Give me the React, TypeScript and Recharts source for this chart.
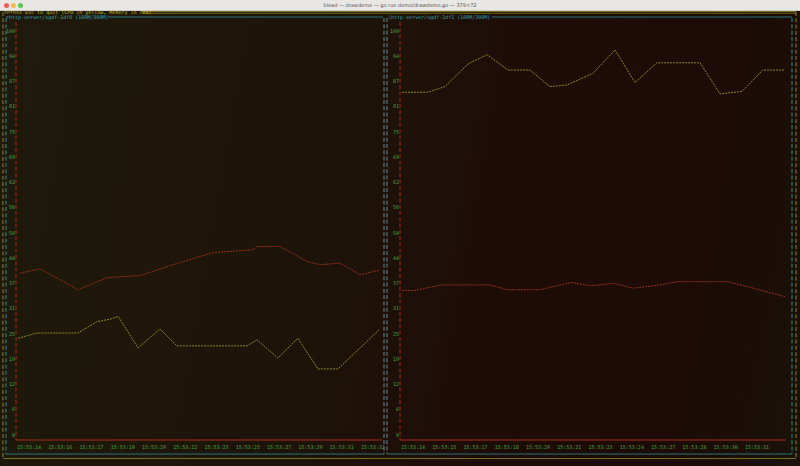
import { Line, LineChart, XAxis, YAxis } from "recharts";

// tick labels
const leftTimes = ["15:53:14", "15:53:16", "15:53:17", "15:53:19", "15:53:20", "15:53:22", "15:53:23", "15:53:25", "15:53:27", "15:53:29", "15:53:31", "15:53:32"];
const rightTimes = ["15:53:14", "15:53:15", "15:53:17", "15:53:18", "15:53:20", "15:53:21", "15:53:23", "15:53:24", "15:53:27", "15:53:28", "15:53:30", "15:53:31"];
const yTicks = [0, 6.25, 12.5, 18.75, 25, 31.25, 37.5, 43.75, 50, 56.25, 62.5, 68.75, 75, 81.25, 87.5, 93.75, 100];
const yLabels = ["0", "6", "12", "19", "25", "31", "37", "44", "50", "56", "62", "69", "75", "81", "87", "94", "100"];

// t = position in x-tick units (0 = first label)
const leftCpu = [
  { t: -0.35, v: 23.9 }, { t: 0.26, v: 25.2 }, { t: 1.57, v: 25.2 }, { t: 2.17, v: 28.0 },
  { t: 2.59, v: 28.6 }, { t: 2.85, v: 29.3 }, { t: 3.49, v: 21.5 }, { t: 4.19, v: 26.2 },
  { t: 4.73, v: 22.0 }, { t: 6.97, v: 22.0 }, { t: 7.29, v: 23.5 }, { t: 7.96, v: 19.0 },
  { t: 8.6, v: 23.9 }, { t: 9.24, v: 16.3 }, { t: 9.88, v: 16.3 }, { t: 10.59, v: 21.5 },
  { t: 11.22, v: 26.2 },
];
const leftMem = [
  { t: -0.29, v: 40.0 }, { t: 0.35, v: 41.1 }, { t: 1.57, v: 35.9 }, { t: 2.49, v: 38.9 },
  { t: 3.55, v: 39.4 }, { t: 4.61, v: 42.1 }, { t: 5.88, v: 45.1 }, { t: 7.16, v: 45.8 },
  { t: 7.29, v: 46.6 }, { t: 8.03, v: 46.6 }, { t: 8.89, v: 42.9 }, { t: 9.31, v: 42.1 },
  { t: 9.95, v: 42.5 }, { t: 10.59, v: 39.6 }, { t: 11.22, v: 40.8 },
];
const rightCpu = [
  { t: -0.35, v: 84.8 }, { t: 0.45, v: 84.8 }, { t: 1.02, v: 86.2 }, { t: 1.76, v: 91.8 },
  { t: 2.37, v: 94.1 }, { t: 3.04, v: 90.3 }, { t: 3.74, v: 90.3 }, { t: 4.38, v: 86.2 },
  { t: 4.92, v: 86.6 }, { t: 5.76, v: 89.5 }, { t: 6.46, v: 95.3 }, { t: 7.1, v: 87.2 },
  { t: 7.8, v: 92.1 }, { t: 9.18, v: 92.1 }, { t: 9.82, v: 84.4 }, { t: 10.52, v: 85.0 },
  { t: 11.19, v: 90.3 }, { t: 11.9, v: 90.3 },
];
const rightMem = [
  { t: -0.35, v: 35.7 }, { t: 0.03, v: 35.7 }, { t: 0.93, v: 37.1 }, { t: 2.46, v: 37.1 },
  { t: 3.01, v: 35.9 }, { t: 4.06, v: 35.9 }, { t: 4.7, v: 37.1 }, { t: 5.08, v: 37.7 },
  { t: 5.66, v: 36.9 }, { t: 5.98, v: 37.1 }, { t: 6.4, v: 37.5 }, { t: 7.04, v: 36.3 },
  { t: 7.9, v: 37.1 }, { t: 8.44, v: 37.9 }, { t: 10.04, v: 37.9 }, { t: 10.68, v: 36.7 },
  { t: 11.9, v: 34.2 },
];

const MONO = "'DejaVu Sans Mono', 'Liberation Mono', monospace";
const YELLOW = "#8c8626";
const RED = "#962e1b";
const GREEN = "#46a83f";
const CYAN = "#2b8c9c";

type Pt = { t: number; v: number };

function Panel(props: { left: number; width: number; cpu: Pt[]; mem: Pt[]; labels: string[]; xMax: number }) {
  const { left, width, cpu, mem, labels, xMax } = props;
  return (
    <div style={{ position: "absolute", left, top: 0 }}>
      <LineChart width={width} height={466} margin={{ top: 22, right: 2, left: 0, bottom: 14 }}>
        <XAxis
          type="number"
          dataKey="t"
          domain={[-0.416, xMax]}
          ticks={labels.map((_, i) => i)}
          interval={0}
          tickFormatter={(v: number) => labels[v] ?? ""}
          allowDataOverflow
          height={12}
          axisLine={{ stroke: "#a52c1a", strokeWidth: 1 }}
          tickLine={false}
          tickSize={3}
          tickMargin={2}
          tick={{ fill: GREEN, fontSize: 5, fontFamily: MONO }}
        />
        <YAxis
          type="number"
          domain={[-1.3, 102.2]}
          ticks={yTicks}
          interval={0}
          tickFormatter={(v: number) => yLabels[yTicks.indexOf(v)] ?? ""}
          allowDataOverflow
          width={16}
          axisLine={{ stroke: "#a52c1a", strokeDasharray: "4 2.3" }}
          tickLine={false}
          tickSize={0}
          tickMargin={1}
          tick={{ fill: GREEN, fontSize: 5, fontFamily: MONO }}
        />
        <Line data={mem} dataKey="v" type="linear" stroke={RED} strokeWidth={1} strokeDasharray="2 1" dot={false} isAnimationActive={false} />
        <Line data={cpu} dataKey="v" type="linear" stroke={YELLOW} strokeWidth={1} strokeDasharray="2 1" dot={false} isAnimationActive={false} />
      </LineChart>
    </div>
  );
}

function Frame() {
  const dash = "4 2.3";
  return (
    <svg width={800} height={466} style={{ position: "absolute", left: 0, top: 0, pointerEvents: "none" }}>
      {/* outer yellow frame */}
      <line x1={3} y1={12} x2={3} y2={459} stroke={YELLOW} strokeDasharray={dash} />
      <line x1={796} y1={12} x2={796} y2={459} stroke={YELLOW} strokeDasharray={dash} />
      <line x1={142} y1={11.5} x2={796} y2={11.5} stroke={YELLOW} strokeWidth={0.8} />
      <line x1={142} y1={13.2} x2={796} y2={13.2} stroke={YELLOW} strokeWidth={0.8} />
      <line x1={3} y1={458.5} x2={796} y2={458.5} stroke={YELLOW} strokeWidth={0.8} />
      {/* panel frames */}
      <line x1={6} y1={18} x2={6} y2={454} stroke={CYAN} strokeDasharray={dash} />
      <line x1={384} y1={18} x2={384} y2={454} stroke="#6f8a96" strokeDasharray={dash} />
      <line x1={387} y1={18} x2={387} y2={454} stroke="#6f8a96" strokeDasharray={dash} />
      <line x1={792} y1={18} x2={792} y2={454} stroke={CYAN} strokeDasharray={dash} />
      <line x1={108} y1={17} x2={383} y2={17} stroke={CYAN} strokeWidth={0.8} />
      <line x1={492} y1={17} x2={792} y2={17} stroke={CYAN} strokeWidth={0.8} />
      <line x1={6} y1={454} x2={384} y2={454} stroke={CYAN} strokeWidth={0.8} />
      <line x1={387} y1={454} x2={792} y2={454} stroke={CYAN} strokeWidth={0.8} />
      <text x={4} y={14} fill="#c2b72c" fontSize={5} fontFamily={MONO}>rPress Esc to quit (CPU in yellow, Memory in red)</text>
      <text x={6} y={19} fill="#33a3b5" fontSize={5} fontFamily={MONO}>rhttp-server/ogdf-1df0 (100M/300M)</text>
      <text x={388} y={19} fill="#33a3b5" fontSize={5} fontFamily={MONO}>\http-server/ogdf-1df1 (100M/300M)</text>
    </svg>
  );
}

export default function App() {
  return (
    <div
      style={{
        position: "fixed",
        left: 0,
        top: 0,
        width: 800,
        height: 466,
        overflow: "hidden",
        background: "linear-gradient(100deg, #1f1a0b 0%, #1d1409 40%, #1e0d07 60%, #1c0b06 85%, #1a1208 100%)",
      }}
    >
      <div style={{ position: "absolute", left: 0, top: 0, width: 800, height: 10, background: "#e9e7e4", borderBottom: "1px solid #cfcdca" }}>
        <div style={{ position: "absolute", left: 4, top: 2.5, width: 5, height: 5, borderRadius: 3, background: "#ee5f57" }} />
        <div style={{ position: "absolute", left: 11, top: 2.5, width: 5, height: 5, borderRadius: 3, background: "#f5bd4f" }} />
        <div style={{ position: "absolute", left: 18, top: 2.5, width: 5, height: 5, borderRadius: 3, background: "#5fc454" }} />
        <div style={{ position: "absolute", left: 0, top: 1.5, width: 800, textAlign: "center", fontSize: 5, fontFamily: "'DejaVu Sans', sans-serif", color: "#555" }}>
          blead — drawdemo — go run demo/drawdemo.go — 379×72
        </div>
      </div>
      <Panel left={0} width={384} cpu={leftCpu} mem={leftMem} labels={leftTimes} xMax={11.29} />
      <Panel left={384} width={404} cpu={rightCpu} mem={rightMem} labels={rightTimes} xMax={11.93} />
      <Frame />
    </div>
  );
}
